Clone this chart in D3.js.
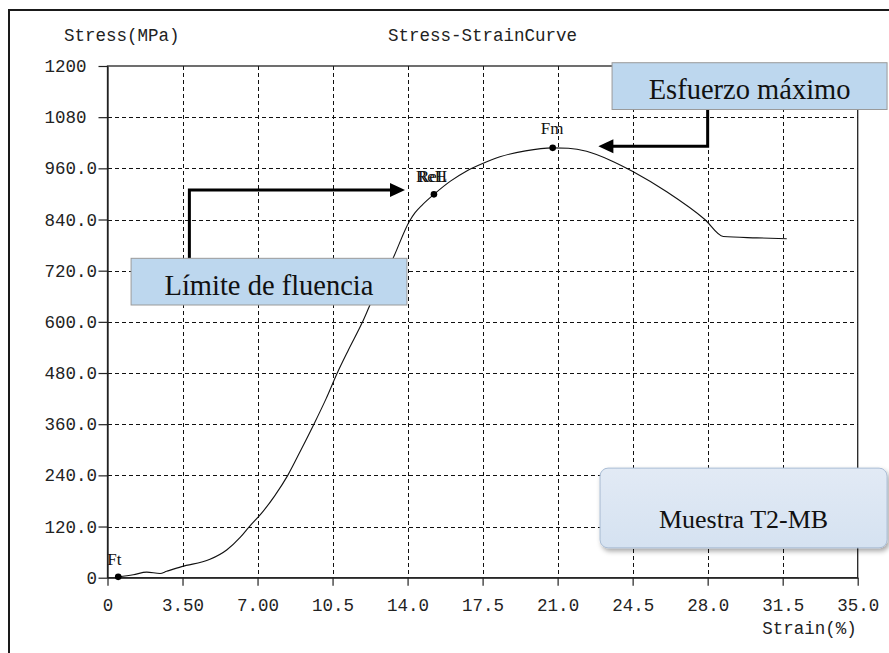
<!DOCTYPE html>
<html>
<head>
<meta charset="utf-8">
<script src="https://cdn.jsdelivr.net/npm/d3@7"></script>
<style>
  html, body { margin: 0; padding: 0; background: #fff; }
  svg { display: block; }
</style>
</head>
<body>
<div id="chart"></div>
<script>
// Tensile test record: stress (MPa) against strain (%)
const strain = [0.50, 1.20, 1.83, 2.45, 2.76, 3.46, 4.78, 5.56, 6.20, 6.62, 7.20, 7.80,
                8.41, 9.03, 9.63, 10.20, 10.72, 11.25, 11.90, 12.25, 13.33, 14.10, 14.35,
                14.70, 15.23, 16.00, 16.76, 17.53, 18.31, 19.50, 20.77, 21.50, 22.35,
                23.50, 24.53, 26.09, 27.87, 28.73, 30.29, 31.69];
const stress = [2, 7, 13, 10, 15, 26, 43, 65, 95, 120, 152, 192,
                240, 300, 360, 420, 480, 535, 600, 640, 750, 837, 856,
                875, 899, 930, 954, 972, 987, 1001, 1008, 1007, 1000,
                978, 952, 905, 840, 800, 797, 795];

// Marked points on the curve
const markNames  = ["Ft", "ReH", "Fm"];
const markStrain = [0.50, 15.23, 20.77];
const markStress = [2, 899, 1008];

// Axis ticks
const xTicks = [0, 3.5, 7, 10.5, 14, 17.5, 21, 24.5, 28, 31.5, 35];
const yTicks = [0, 120, 240, 360, 480, 600, 720, 840, 960, 1080, 1200];

// Texts
const chartTitle = "Stress-StrainCurve";
const yTitle = "Stress(MPa)";
const xTitle = "Strain(%)";
const yieldNote = "Límite de fluencia";
const maxNote = "Esfuerzo máximo";
const sampleNote = "Muestra T2-MB";

const W = 889, H = 653;
const plot = { left: 107.5, right: 857.7, top: 66, bottom: 577.7 };
const monoFont = "'Liberation Mono', 'DejaVu Sans Mono', monospace";
const serifFont = "'Liberation Serif', 'DejaVu Serif', serif";

const svg = d3.select("#chart").append("svg")
  .attr("width", W).attr("height", H)
  .attr("viewBox", `0 0 ${W} ${H}`);

const defs = svg.append("defs");
const shadow = defs.append("filter").attr("id", "soft-shadow")
  .attr("x", "-10%").attr("y", "-20%").attr("width", "130%").attr("height", "160%");
shadow.append("feDropShadow").attr("dx", 2).attr("dy", 3)
  .attr("stdDeviation", 2.5).attr("flood-color", "#000").attr("flood-opacity", 0.35);
const grad = defs.append("linearGradient").attr("id", "sample-fill")
  .attr("x1", 0).attr("y1", 0).attr("x2", 0).attr("y2", 1);
grad.append("stop").attr("offset", "0%").attr("stop-color", "#e2eaf5");
grad.append("stop").attr("offset", "100%").attr("stop-color", "#d5e2f1");

// Outer frame (top and left edges)
svg.append("line").attr("x1", 9).attr("y1", 10).attr("x2", W).attr("y2", 10)
  .attr("stroke", "#1a1a1a").attr("stroke-width", 2);
svg.append("line").attr("x1", 9).attr("y1", 9).attr("x2", 9).attr("y2", H)
  .attr("stroke", "#1a1a1a").attr("stroke-width", 2);

const x = d3.scaleLinear().domain([0, 35]).range([plot.left, plot.right]);
const y = d3.scaleLinear().domain([0, 1200]).range([plot.bottom, plot.top]);

// Dashed grid
const grid = svg.append("g").attr("stroke", "#111").attr("stroke-width", 1)
  .attr("stroke-dasharray", "4,3").attr("shape-rendering", "crispEdges");
grid.selectAll("line.v").data(xTicks.slice(1, -1)).join("line").attr("class", "v")
  .attr("x1", d => Math.round(x(d)) + 0.5).attr("x2", d => Math.round(x(d)) + 0.5)
  .attr("y1", plot.top).attr("y2", plot.bottom);
grid.selectAll("line.h").data(yTicks.slice(1, -1)).join("line").attr("class", "h")
  .attr("y1", d => Math.round(y(d)) + 0.5).attr("y2", d => Math.round(y(d)) + 0.5)
  .attr("x1", plot.left).attr("x2", plot.right);

// Plot border
svg.append("rect")
  .attr("x", plot.left).attr("y", plot.top)
  .attr("width", plot.right - plot.left).attr("height", plot.bottom - plot.top)
  .attr("fill", "none").attr("stroke", "#222").attr("stroke-width", 1.3);

const fmtX = d => d === 0 ? "0" : (d < 10 ? d.toFixed(2) : d.toFixed(1));
const fmtY = d => d === 0 ? "0" : (d >= 1000 ? d + "\u00A0" : d.toFixed(1));

const xAxis = svg.append("g").attr("transform", `translate(0,${plot.bottom})`)
  .call(d3.axisBottom(x).tickValues(xTicks).tickFormat(fmtX).tickSize(8).tickSizeOuter(0).tickPadding(13));
const yAxis = svg.append("g").attr("transform", `translate(${plot.left},0)`)
  .call(d3.axisLeft(y).tickValues(yTicks).tickFormat(fmtY).tickSize(9).tickSizeOuter(0).tickPadding(1.5));
[xAxis, yAxis].forEach(g => {
  g.select(".domain").attr("stroke", "#222").attr("stroke-width", 1.3);
  g.selectAll(".tick line").attr("stroke", "#222").attr("stroke-width", 1.2);
  g.selectAll(".tick text").attr("fill", "#222")
    .style("font-family", monoFont).style("font-size", "17.5px");
});

// Titles
const textStyle = sel => sel.attr("fill", "#222").style("font-family", monoFont).style("font-size", "17.5px");
svg.append("text").attr("x", 64).attr("y", 41).text(yTitle).call(textStyle);
svg.append("text").attr("x", (plot.left + plot.right) / 2).attr("y", 41)
  .attr("text-anchor", "middle").text(chartTitle).call(textStyle);
svg.append("text").attr("x", plot.right - 1).attr("y", 634)
  .attr("text-anchor", "end").text(xTitle).call(textStyle);

// Curve
const pts = strain.map((s, i) => [s, stress[i]]);
svg.append("path").datum(pts)
  .attr("fill", "none").attr("stroke", "#111").attr("stroke-width", 1.1)
  .attr("d", d3.line().x(d => x(d[0])).y(d => y(d[1])).curve(d3.curveMonotoneX));

// Marked points and their names
const marks = markNames.map((n, i) => ({ name: n, s: markStrain[i], v: markStress[i] }));
svg.selectAll("circle.mark").data(marks).join("circle").attr("class", "mark")
  .attr("cx", d => x(d.s)).attr("cy", d => y(d.v)).attr("r", 3.3).attr("fill", "#000");
const labelOffset = { Ft: [-11, -12], ReH: [-18, -12], Fm: [-12, -14] };
marks.forEach(d => {
  const [dx, dy] = labelOffset[d.name];
  svg.append("text").attr("x", x(d.s) + dx).attr("y", y(d.v) + dy)
    .attr("fill", "#111").style("font-family", serifFont).style("font-size", "17px").text(d.name);
  if (d.name === "ReH") {
    // lower yield point label printed on top of the upper one
    svg.append("text").attr("x", x(d.s) + dx + 2).attr("y", y(d.v) + dy)
      .attr("fill", "#111").style("font-family", serifFont).style("font-size", "17px").text("ReL");
  }
});

// Callouts
function noteBox(x0, v0, x1, v1, label, size) {
  const bx = x(x0), by = y(v0), bw = x(x1) - x(x0), bh = y(v1) - y(v0);
  svg.append("rect").attr("x", bx).attr("y", by).attr("width", bw).attr("height", bh)
    .attr("fill", "#bdd7ee").attr("stroke", "#9a9a9a").attr("stroke-width", 1);
  svg.append("text").attr("x", bx + bw / 2).attr("y", by + bh - 10)
    .attr("text-anchor", "middle").attr("fill", "#111")
    .style("font-family", serifFont).style("font-size", size + "px").text(label);
}
function elbowArrow(points) {
  const p = points.map(d => [x(d[0]), y(d[1])]);
  const n = p.length;
  const [tx, ty] = p[n - 1];
  const [px] = p[n - 2];
  const dir = Math.sign(tx - px);
  const headLen = 15, headHalf = 7;
  const line = p.slice(0, n - 1).concat([[tx - dir * headLen + dir * 1, ty]]);
  svg.append("path").attr("d", d3.line()(line))
    .attr("fill", "none").attr("stroke", "#000").attr("stroke-width", 3);
  svg.append("path")
    .attr("d", `M${tx},${ty} L${tx - dir * headLen},${ty - headHalf} L${tx - dir * headLen},${ty + headHalf} Z`)
    .attr("fill", "#000");
}

// Yield point callout
elbowArrow([[3.82, 749], [3.82, 909], [13.88, 909]]);
noteBox(1.10, 749, 13.97, 639.5, yieldNote, 28.5);

// Maximum stress callout
elbowArrow([[28.0, 1098], [28.0, 1012], [22.9, 1012]]);
noteBox(23.54, 1207.7, 36.37, 1098, maxNote, 28.5);

// Sample tag
const sx = x(22.98), sy = y(257), sw = x(36.37) - x(22.98), sh = y(70) - y(257);
svg.append("rect").attr("x", sx).attr("y", sy).attr("width", sw).attr("height", sh)
  .attr("rx", 8).attr("ry", 8)
  .attr("fill", "url(#sample-fill)").attr("stroke", "#a9bcd4").attr("stroke-width", 1)
  .attr("filter", "url(#soft-shadow)");
svg.append("text").attr("x", sx + sw / 2).attr("y", sy + sh - 20)
  .attr("text-anchor", "middle").attr("fill", "#111")
  .style("font-family", serifFont).style("font-size", "26px").text(sampleNote);
</script>
</body>
</html>
